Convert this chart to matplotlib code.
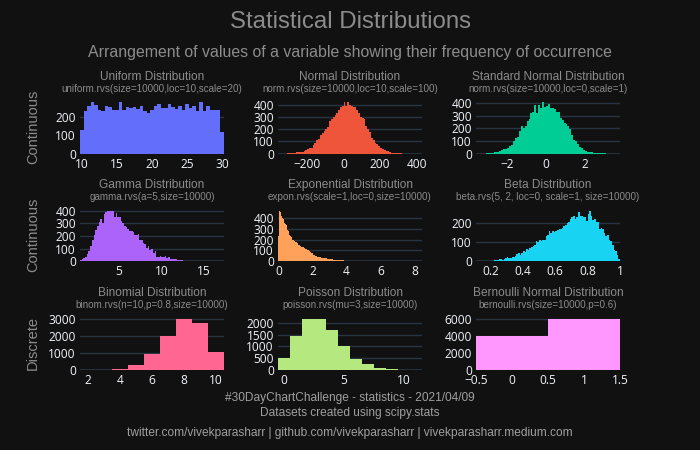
import matplotlib.pyplot as plt
import numpy as np

plt.rcParams['font.family'] = ['Liberation Sans', 'DejaVu Sans']

BG = '#111111'
GRID = '#283442'
TICK = '#f2f5fa'
GREY = '#8c8c8c'

# bin counts (start of first bin, bin width, counts)
uniform_start, uniform_width = 9.75, 0.5
uniform_counts = [127, 235, 262, 281, 264, 237, 231, 262, 255, 240,
                  237, 281, 237, 255, 250, 255, 244, 259, 231, 222,
                  237, 259, 268, 250, 250, 268, 255, 244, 259, 240,
                  268, 250, 262, 231, 281, 231, 262, 237, 237, 237, 116]

normal_start, normal_width = -360, 10
normal_counts = [1, 0, 0, 1, 1, 2, 3,
                 4, 5, 7, 10, 12, 15, 17, 22, 30, 35,
                 45, 50, 68, 88, 110, 122, 150, 168, 185, 200,
                 218, 265, 282, 300, 312, 335, 355, 378, 385, 420,
                 385, 420, 398, 388, 380, 378, 352, 330, 298, 292,
                 284, 228, 205, 180, 128, 110, 90, 76, 62, 48,
                 42, 33, 20, 22, 14, 8, 7, 5, 4, 3,
                 2, 1, 1, 0, 1, 0, 0, 0, 0, 0, 0, 1]

stdnorm_start, stdnorm_width = -3.6, 0.1
stdnorm_counts = [1, 0, 1, 0, 1, 2, 3, 5, 7, 10,
                  14, 16, 22, 27, 35, 38, 43, 60, 70, 97,
                  124, 130, 178, 219, 205, 219, 260, 278, 319, 327,
                  381, 322, 381, 360, 408, 368, 376, 395, 360, 360,
                  354, 332, 326, 286, 265, 246, 232, 219, 192, 151,
                  111, 97, 78, 51, 43, 30, 22, 16, 14, 10,
                  8, 6, 5, 4, 3, 2, 2, 1, 1, 0,
                  1, 0, 0, 1]

gamma_start, gamma_width = 0.4, 0.2
gamma_counts = [10, 15, 24, 37, 59, 85, 123, 165, 211, 245,
                277, 309, 336, 304, 371, 392, 400, 400, 400, 400,
                352, 384, 352, 352, 317, 304, 277, 272, 251, 237,
                240, 229, 211, 211, 219, 171, 165, 144, 139, 104,
                117, 91, 96, 69, 85, 37, 37, 43, 32, 37,
                43, 27, 32, 21, 16, 16, 21, 11, 13, 11,
                8, 6, 5, 5, 4, 3, 4, 2, 3, 5,
                2, 1, 2, 1, 1, 0, 1, 1, 0, 1,
                0, 0, 1, 0, 1]

expon_start, expon_width = -0.025, 0.05
expon_counts = [231, 470, 458, 445, 419, 403, 388, 356, 345, 338,
                309, 290, 278, 247, 236, 228, 216, 200, 195, 184,
                180, 176, 169, 162, 155, 150, 140, 136, 134, 130,
                124, 120, 117, 113, 108, 104, 92, 90, 82, 78,
                74, 62, 58, 52, 48, 46, 44, 43, 42, 36,
                34, 33, 32, 30, 28, 27, 29, 24, 22, 23,
                21, 19, 20, 18, 17, 13, 12, 13, 11, 12,
                12, 11, 9, 10, 9, 8, 9, 8, 7, 7,
                6, 7, 6, 5, 6, 5, 4, 4, 3, 4,
                3, 3, 4, 2, 3, 3, 2, 3, 2, 2,
                3, 2, 1, 2, 1, 2, 1, 1, 2, 1,
                1, 0, 1, 1, 0, 1, 0, 1, 0, 0,
                1, 0, 0, 1, 0, 0, 0, 0, 0, 0,
                0, 0, 0, 0, 1, 0, 0, 0, 0, 0,
                0, 0, 0, 0, 0, 0, 0, 0, 0, 0,
                0, 0, 0, 0, 0, 0, 0, 1, 0, 0,
                0, 0, 0, 0, 0, 0, 0, 0, 1]

beta_start, beta_width = 0.11, 0.01
beta_counts = [1, 0, 1, 0, 1, 2, 4, 2, 3, 2,
               4, 5, 7, 6, 10, 11, 9, 12, 16, 21,
               19, 16, 21, 25, 29, 39, 46, 34, 43, 52,
               50, 64, 61, 70, 75, 82, 88, 105, 100, 111,
               105, 114, 111, 132, 136, 159, 150, 159, 154, 158,
               164, 168, 171, 177, 183, 189, 200, 208, 220, 232,
               239, 221, 230, 257, 239, 236, 230, 234, 212, 248,
               266, 236, 218, 221, 207, 205, 171, 177, 168, 150,
               132, 136, 114, 105, 88, 61, 52, 34, 11]

binom_start, binom_width = 1.5, 1
binom_counts = [1, 8, 58, 265, 910, 1960, 3010, 2730, 1058]

poisson_start, poisson_width = -0.5, 1
poisson_counts = [504, 1455, 2190, 2190, 1715, 1009, 461, 245, 72, 30, 8, 2]

bern_start, bern_width = -0.5, 1
bern_counts = [3990, 6010]

panels = [
    ('Uniform Distribution', 'uniform.rvs(size=10000,loc=10,scale=20)', '#636efa',
     uniform_start, uniform_width, uniform_counts, [10, 15, 20, 25, 30], None, [0, 100, 200]),
    ('Normal Distribution', 'norm.rvs(size=10000,loc=10,scale=100)', '#ef553b',
     normal_start, normal_width, normal_counts, [-200, 0, 200, 400], None, [0, 100, 200, 300, 400]),
    ('Standard Normal Distribution', 'norm.rvs(size=10000,loc=0,scale=1)', '#00cc96',
     stdnorm_start, stdnorm_width, stdnorm_counts, [-2, 0, 2], None, [0, 100, 200, 300, 400]),
    ('Gamma Distribution', 'gamma.rvs(a=5,size=10000)', '#ab63fa',
     gamma_start, gamma_width, gamma_counts, [5, 10, 15], None, [0, 100, 200, 300, 400]),
    ('Exponential Distribution', 'expon.rvs(scale=1,loc=0,size=10000)', '#ffa15a',
     expon_start, expon_width, expon_counts, [0, 2, 4, 6, 8], None, [0, 100, 200, 300, 400]),
    ('Beta Distribution', 'beta.rvs(5, 2, loc=0, scale=1, size=10000)', '#19d3f3',
     beta_start, beta_width, beta_counts, [0.2, 0.4, 0.6, 0.8, 1.0],
     ['0.2', '0.4', '0.6', '0.8', '1'], [0, 100, 200]),
    ('Binomial Distribution', 'binom.rvs(n=10,p=0.8,size=10000)', '#ff6692',
     binom_start, binom_width, binom_counts, [2, 4, 6, 8, 10], None, [0, 1000, 2000, 3000]),
    ('Poisson Distribution', 'poisson.rvs(mu=3,size=10000)', '#b6e880',
     poisson_start, poisson_width, poisson_counts, [0, 5, 10], None, [0, 500, 1000, 1500, 2000]),
    ('Bernoulli Normal Distribution', 'bernoulli.rvs(size=10000,p=0.6)', '#ff97ff',
     bern_start, bern_width, bern_counts, [-0.5, 0, 0.5, 1, 1.5],
     ['−0.5', '0', '0.5', '1', '1.5'], [0, 2000, 4000, 6000]),
]

row_labels = ['Continuous', 'Continuous', 'Discrete']

W, H = 700, 450
col_left = [80, 278, 476]
col_w = 144
row_top = [99.5, 208, 316]
row_bot = [153.7, 261.3, 369.7]

fig = plt.figure(figsize=(7, 4.5), dpi=100, facecolor=BG)

for k, (title, sub, color, start, width, counts, xt, xtl, yt) in enumerate(panels):
    r, c = divmod(k, 3)
    ax = fig.add_axes([col_left[c] / W, 1 - row_bot[r] / H, col_w / W, (row_bot[r] - row_top[r]) / H])
    ax.set_facecolor(BG)
    counts = np.array(counts, dtype=float)
    edges = start + width * np.arange(len(counts) + 1)
    ax.stairs(counts, edges, fill=True, color=color, lw=0, zorder=2)
    ax.axhline(0, color=GRID, lw=2, zorder=1)
    ax.set_xlim(edges[0], edges[-1])
    ax.set_ylim(0, counts.max() * 1.05)
    ax.set_xticks(xt)
    if xtl is not None:
        ax.set_xticklabels(xtl)
    ax.set_yticks(yt)
    ax.yaxis.grid(True, color=GRID, lw=1)
    ax.set_axisbelow(True)
    for s in ax.spines.values():
        s.set_visible(False)
    ax.tick_params(length=0, colors=TICK, labelsize=8.6, pad=3)
    for lab in ax.get_xticklabels() + ax.get_yticklabels():
        lab.set_family('Open Sans')
    cx = (col_left[c] + col_w / 2) / W
    fig.text(cx, 1 - (row_top[r] - 23) / H, title, ha='center', va='center', fontsize=8.6, color=GREY)
    fig.text(cx, 1 - (row_top[r] - 10.5) / H, sub, ha='center', va='center', fontsize=7.1, color=GREY)

for r, lab in enumerate(row_labels):
    fig.text(33 / W, 1 - (row_top[r] + row_bot[r]) / 2 / H, lab, rotation=90,
             ha='center', va='center', fontsize=10.5, color=GREY)

fig.text(0.5, 1 - 22 / H, 'Statistical Distributions', ha='center', va='center', fontsize=17.3, color=GREY)
fig.text(0.5, 1 - 52 / H, 'Arrangement of values of a variable showing their frequency of occurrence',
         ha='center', va='center', fontsize=11.4, color=GREY)
fig.text(0.5, 1 - 398 / H, '#30DayChartChallenge - statistics - 2021/04/09',
         ha='center', va='center', fontsize=8.6, color='#a0a0a0')
fig.text(0.5, 1 - 413 / H, 'Datasets created using scipy.stats',
         ha='center', va='center', fontsize=8.6, color='#a0a0a0')
fig.text(0.5, 1 - 433 / H, 'twitter.com/vivekparasharr | github.com/vivekparasharr | vivekparasharr.medium.com',
         ha='center', va='center', fontsize=8.6, color='#a0a0a0')

fig.savefig('out.png', dpi=100, facecolor=BG)
